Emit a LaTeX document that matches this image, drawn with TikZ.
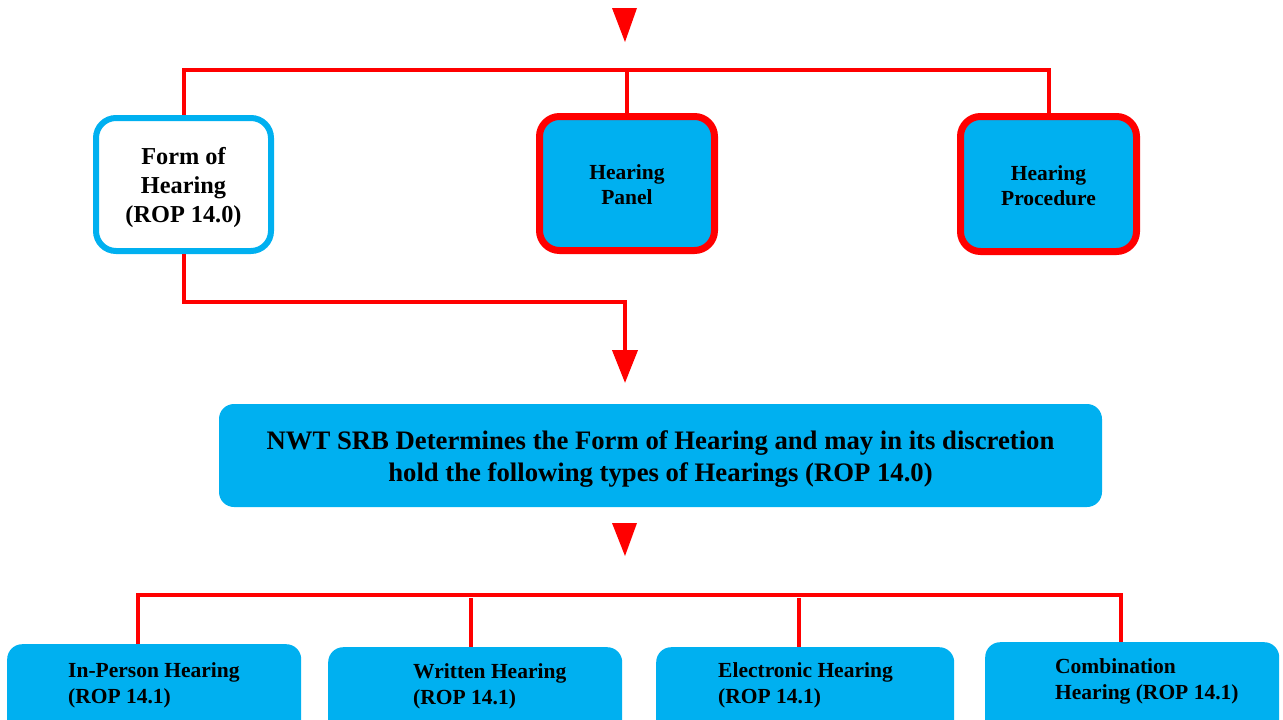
\documentclass[tikz,border=0pt]{standalone}
\usepackage{fontspec}
\setmainfont{Liberation Serif}
\usetikzlibrary{arrows.meta}
\definecolor{skyb}{HTML}{00B0F0}
\definecolor{rd}{HTML}{FF0000}
\newcommand{\topup}[1]{\rule{0pt}{#1}}
\begin{document}
\begin{tikzpicture}[x=1pt,y=-1pt,
  conn/.style={draw=rd, line width=4pt},
  tip/.style={-{Triangle[width=25pt,length=33pt]}},
  topbox/.style={draw=rd, line width=7pt, fill=skyb, rounded corners=20pt,
    minimum width=175pt, minimum height=134pt, align=center,
    font=\fontsize{21.5}{25}\selectfont\bfseries},
  lowbox/.style={fill=skyb, rounded corners=15pt, anchor=north west,
    minimum height=100pt, inner sep=0pt},
  lowtxt/.style={anchor=west, align=left, inner sep=0pt,
    font=\fontsize{21.5}{26}\selectfont\bfseries}]
\useasboundingbox (0,0) rectangle (1283,720);
\clip (0,0) rectangle (1283,720);
% top arrow head
\fill[rd] (612,8) -- (637,8) -- (625,42) -- cycle;
% top boxes
\node[draw=skyb, line width=6pt, fill=white, rounded corners=20pt,
  minimum width=175pt, minimum height=133pt, align=center,
  font=\fontsize{24.3}{29}\selectfont\bfseries] (form) at (183.5,184.5) {\topup{22.8pt}Form of\\Hearing\\(ROP 14.0)};
\node[topbox] (panel) at (627,183.5) {\topup{16.8pt}Hearing\\Panel};
\node[topbox, minimum width=176pt, minimum height=135pt] (proc) at (1048.5,184) {\topup{17.5pt}Hearing\\Procedure};
\coordinate (bus1) at (627,70);
\draw[conn] (form.north) |- (bus1) -| (proc.north);
\draw[conn] (bus1) -- (panel.north);
% main box
\node[fill=skyb, rounded corners=15pt, minimum width=883pt, minimum height=103pt,
  align=center, font=\fontsize{26.7}{32}\selectfont\bfseries] (main) at (660.5,455.5)
  {\topup{26.4pt}NWT SRB Determines the Form of Hearing and may in its discretion\\hold the following types of Hearings (ROP 14.0)};
\coordinate (el) at (625,302);
\coordinate (tipA) at (625,383);
\draw[conn, tip] (form.south) |- (el) -- (tipA);
% lower arrow head
\fill[rd] (612,523) -- (637,523) -- (625,556) -- cycle;
% bottom boxes
\node[lowbox, minimum width=294pt] (b1) at (7,644) {};
\node[lowbox, minimum width=294pt] (b2) at (328,647) {};
\node[lowbox, minimum width=298pt] (b3) at (656,647) {};
\node[lowbox, minimum width=294pt] (b4) at (985,642) {};
\node[lowtxt] (t1) at (68,685.5) {In-Person Hearing\\(ROP 14.1)};
\node[lowtxt] (t2) at (413,686) {Written Hearing\\(ROP 14.1)};
\node[lowtxt] (t3) at (718,685.5) {Electronic Hearing\\(ROP 14.1)};
\node[lowtxt] (t4) at (1055,681) {Combination\\Hearing (ROP 14.1)};
% bottom bus
\coordinate (k1) at (138,595);
\coordinate (k2) at (471,598);
\coordinate (k3) at (799,598);
\coordinate (k4) at (1121,595);
\draw[conn] (b1.north -| k1) |- (k4) -- (k4 |- b4.north);
\draw[conn] (k2) -- (k2 |- b2.north);
\draw[conn] (k3) -- (k3 |- b3.north);
\end{tikzpicture}
\end{document}
